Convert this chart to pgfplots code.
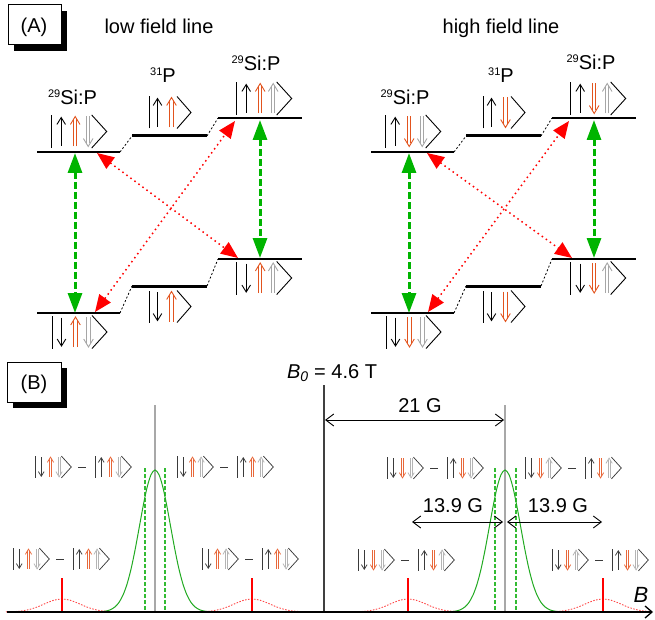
\documentclass[border=0pt]{standalone}
\usepackage{pgfplots}
\pgfplotsset{compat=1.18}
\usetikzlibrary{arrows.meta}
\usepackage{fontspec}
\setmainfont{Liberation Sans}

\definecolor{kred}{HTML}{E2541E}
\definecolor{kgray}{HTML}{A6A6A6}
\definecolor{kdark}{HTML}{3A3A3A}
\definecolor{kred2}{HTML}{E8683A}
\definecolor{kgray2}{HTML}{B4B4B4}
\definecolor{gline}{HTML}{00B400}
\definecolor{gcurve}{HTML}{22AA22}
\definecolor{gdash}{HTML}{33BB33}
\definecolor{rdot}{HTML}{FF4A4A}
\definecolor{vgray}{HTML}{A8A8A8}

% single arrow: x offset, direction, colour
\newcommand{\sarr}[3]{%
 \begin{scope}[xshift=#1pt, yscale=#2]
 \draw[#3] (0pt,-14.5pt) -- (0pt,13.5pt);
 \draw[#3] (-4.3pt,7pt) -- (0pt,14pt) -- (4.3pt,7pt);
 \end{scope}}
% double arrow
\newcommand{\darr}[3]{%
 \begin{scope}[xshift=#1pt, yscale=#2]
 \draw[#3] (-1.7pt,-15pt) -- (-1.7pt,12pt) (1.7pt,-15pt) -- (1.7pt,12pt);
 \draw[#3] (-4.8pt,7pt) -- (0pt,15pt) -- (4.8pt,7pt);
 \end{scope}}
\newcommand{\kthree}[6]{%
 \draw[#4] (0pt,-16.5pt) -- (0pt,16.5pt);
 \sarr{9.5}{#1}{#4}
 \darr{23.5}{#2}{#5}
 \darr{36.5}{#3}{#6}
 \draw[#4] (40pt,16.5pt) -- (55pt,0pt) -- (40pt,-16.5pt);}
\newcommand{\ktwo}[4]{%
 \draw[#3] (0pt,-16pt) -- (0pt,16pt);
 \sarr{8.5}{#1}{#3}
 \darr{22.5}{#2}{#4}
 \draw[#3] (28pt,16pt) -- (42pt,0pt) -- (28pt,-16pt);}
\newcommand{\kA}[5]{%
 \begin{scope}[shift={(axis cs:#1,#2)}, line width=0.9pt]
 \kthree{#3}{#4}{#5}{black}{kred}{kgray}
 \end{scope}}
\newcommand{\kB}[4]{%
 \begin{scope}[shift={(axis cs:#1,#2)}, line width=0.9pt]
 \ktwo{#3}{#4}{black}{kred}
 \end{scope}}
\newcommand{\kP}[8]{%
 \begin{scope}[shift={(axis cs:#1,#2)}, line width=0.75pt]
  \begin{scope}[scale=0.66] \kthree{#3}{#4}{#5}{kdark}{kred2}{kgray2} \end{scope}
  \draw[kdark, line width=0.9pt] (43pt,0pt) -- (51pt,0pt);
  \begin{scope}[xshift=60pt, scale=0.66] \kthree{#6}{#7}{#8}{kdark}{kred2}{kgray2} \end{scope}
 \end{scope}}
\newcommand{\isup}[1]{{\fontsize{11}{11}\selectfont\raisebox{7.5pt}{#1}}}

\tikzset{
 lev/.style={black, line width=1.2pt},
 levP/.style={black, line width=3pt},
 con/.style={black, line width=0.8pt, dash pattern=on 2pt off 2pt},
 garr/.style={gline, line width=3pt, dash pattern=on 7pt off 3pt,
   {Triangle[length=20pt,width=14pt]}-{Triangle[length=20pt,width=14pt]}},
 rarr/.style={red, line width=1.5pt, dash pattern=on 1.5pt off 3.5pt,
   {Triangle[length=17pt,width=14pt]}-{Triangle[length=17pt,width=14pt]}},
 darr/.style={black, line width=0.9pt,
   {Straight Barb[length=8pt,width=12pt]}-{Straight Barb[length=8pt,width=12pt]}},
}

\begin{document}
\begin{tikzpicture}[font=\fontsize{20}{24}\selectfont]
\begin{axis}[x=1pt, y=1pt, xmin=0, xmax=655, ymin=0, ymax=620, y dir=reverse,
  hide axis, clip=false]
\path (axis cs:0,0) rectangle (axis cs:655,620);

% ---------- Panel labels ----------
\fill[black] (axis cs:14,11) rectangle (axis cs:67,51);
\draw[black, fill=white, line width=0.9pt] (axis cs:8,4) rectangle (axis cs:61,44);
\node[anchor=base] at (axis cs:34,33) {(A)};
\fill[black] (axis cs:13,368) rectangle (axis cs:67,408);
\draw[black, fill=white, line width=0.9pt] (axis cs:7,362) rectangle (axis cs:61,402);
\node[anchor=base] at (axis cs:34,389) {(B)};

\node[anchor=base] at (axis cs:159,34) {low field line};
\node[anchor=base] at (axis cs:501,34) {high field line};

% ---------- Panel A, left ----------
\draw[lev] (axis cs:37,152) -- (axis cs:120,152);
\draw[levP] (axis cs:132,136) -- (axis cs:207,136);
\draw[lev] (axis cs:218,118) -- (axis cs:302,118);
\draw[lev] (axis cs:37,313) -- (axis cs:120,313);
\draw[levP] (axis cs:132,286) -- (axis cs:207,286);
\draw[lev] (axis cs:218,259) -- (axis cs:302,259);
\draw[con] (axis cs:120,152) -- (axis cs:132,136);
\draw[con] (axis cs:207,136) -- (axis cs:218,118);
\draw[con] (axis cs:120,313) -- (axis cs:132,286);
\draw[con] (axis cs:207,286) -- (axis cs:218,259);
\node[anchor=base] at (axis cs:72.5,105) {\isup{29}Si:P};
\node[anchor=base] at (axis cs:256,71) {\isup{29}Si:P};
\node[anchor=base] at (axis cs:163,83) {\isup{31}P};
\kA{51.7}{131.5}{1}{1}{-1}
\kB{149}{112.5}{1}{1}
\kA{236.7}{98.5}{1}{1}{1}
\kA{52}{332}{-1}{1}{-1}
\kB{149}{306.5}{-1}{1}
\kA{236.7}{278}{-1}{1}{1}
\draw[garr] (axis cs:75,153) -- (axis cs:75,313);
\draw[garr] (axis cs:260,120) -- (axis cs:260,258);
\draw[rarr] (axis cs:97,153) -- (axis cs:238,258);
\draw[rarr] (axis cs:95,312) -- (axis cs:235,121);

% ---------- Panel A, right ----------
\draw[lev] (axis cs:371,152) -- (axis cs:454,152);
\draw[levP] (axis cs:466,136) -- (axis cs:541,136);
\draw[lev] (axis cs:552,118) -- (axis cs:636,118);
\draw[lev] (axis cs:371,313) -- (axis cs:454,313);
\draw[levP] (axis cs:466,286) -- (axis cs:541,286);
\draw[lev] (axis cs:552,259) -- (axis cs:636,259);
\draw[con] (axis cs:454,152) -- (axis cs:466,136);
\draw[con] (axis cs:541,136) -- (axis cs:552,118);
\draw[con] (axis cs:454,313) -- (axis cs:466,286);
\draw[con] (axis cs:541,286) -- (axis cs:552,259);
\node[anchor=base] at (axis cs:405,105) {\isup{29}Si:P};
\node[anchor=base] at (axis cs:591,70) {\isup{29}Si:P};
\node[anchor=base] at (axis cs:501,83) {\isup{31}P};
\kA{385.7}{131.5}{1}{-1}{-1}
\kB{483}{112.5}{1}{-1}
\kA{570.7}{98.5}{1}{-1}{1}
\kA{386}{332}{-1}{-1}{-1}
\kB{483}{306.5}{-1}{-1}
\kA{570.7}{278}{-1}{-1}{1}
\draw[garr] (axis cs:409,153) -- (axis cs:409,313);
\draw[garr] (axis cs:594,120) -- (axis cs:594,258);
\draw[rarr] (axis cs:427,153) -- (axis cs:572,258);
\draw[rarr] (axis cs:428,312) -- (axis cs:569,121);

% ---------- Panel B ----------
\addplot[vgray, line width=2pt] coordinates {(155,405) (155,612)};
\addplot[vgray, line width=2pt] coordinates {(505,405) (505,612)};
\addplot[black!75, line width=1.1pt] coordinates {(324,385) (324,612)};
\addplot[gdash, line width=1.2pt, dash pattern=on 4pt off 2pt] coordinates {(145,468) (145,612)};
\addplot[gdash, line width=1.2pt, dash pattern=on 4pt off 2pt] coordinates {(165,468) (165,612)};
\addplot[gdash, line width=1.2pt, dash pattern=on 4pt off 2pt] coordinates {(495,468) (495,612)};
\addplot[gdash, line width=1.2pt, dash pattern=on 4pt off 2pt] coordinates {(516,468) (516,612)};

\addplot[gcurve, line width=1pt, smooth] coordinates {
(100,611.8) (105,611.2) (110,609.9) (115,606.9) (119,602.4) (123,595.1) (127,584.2)
(131,569.2) (135,550.2) (139,528.6) (143,506.8) (147,487.7) (151,474.7) (155,470)
(159,474.7) (163,487.7) (167,506.8) (171,528.6) (175,550.2) (179,569.2) (183,584.2)
(187,595.1) (191,602.4) (195,606.9) (200,609.9) (205,611.2) (210,611.8)};
\addplot[gcurve, line width=1pt, smooth] coordinates {
(450,611.8) (455,611.2) (460,609.9) (465,606.9) (469,602.4) (473,595.1) (477,584.2)
(481,569.2) (485,550.2) (489,528.6) (493,506.8) (497,487.7) (501,474.7) (505,470)
(509,474.7) (513,487.7) (517,506.8) (521,528.6) (525,550.2) (529,569.2) (533,584.2)
(537,595.1) (541,602.4) (545,606.9) (550,609.9) (555,611.2) (560,611.8)};

\addplot[rdot, line width=0.9pt, dash pattern=on 1.5pt off 1.5pt, smooth] coordinates {
(6,611.9) (14,611.6) (22,610.9) (30,609.3) (38,606.7) (46,603.2) (54,600.2) (62,599)
(70,600.2) (78,603.2) (86,606.7) (94,609.3) (102,610.9) (110,611.6) (118,611.9)};
\addplot[rdot, line width=0.9pt, dash pattern=on 1.5pt off 1.5pt, smooth] coordinates {
(196,611.9) (204,611.6) (212,610.9) (220,609.3) (228,606.7) (236,603.2) (244,600.2) (252,599)
(260,600.2) (268,603.2) (276,606.7) (284,609.3) (292,610.9) (300,611.6) (308,611.9)};
\addplot[rdot, line width=0.9pt, dash pattern=on 1.5pt off 1.5pt, smooth] coordinates {
(352,611.9) (360,611.6) (368,610.9) (376,609.3) (384,606.7) (392,603.2) (400,600.2) (408,599)
(416,600.2) (424,603.2) (432,606.7) (440,609.3) (448,610.9) (456,611.6) (464,611.9)};
\addplot[rdot, line width=0.9pt, dash pattern=on 1.5pt off 1.5pt, smooth] coordinates {
(547,611.9) (555,611.6) (563,610.9) (571,609.3) (579,606.7) (587,603.2) (595,600.2) (603,599)
(611,600.2) (619,603.2) (627,606.7) (635,609.3) (643,610.9) (651,611.6)};

\addplot[red, line width=2.5pt] coordinates {(62,578) (62,612)};
\addplot[red, line width=2.5pt] coordinates {(252,578) (252,612)};
\addplot[red, line width=2.5pt] coordinates {(408,578) (408,612)};
\addplot[red, line width=2.5pt] coordinates {(603,578) (603,612)};

\draw[black, line width=1.3pt, -{Straight Barb[length=7pt,width=12pt]}] (axis cs:7,612) -- (axis cs:653,612);
\node[anchor=base] at (axis cs:641,602) {\fontsize{22}{24}\selectfont\textit{B}};

\node[anchor=base] at (axis cs:332,378) {\textit{B}\textsubscript{\textit{0}} = 4.6 T};
\draw[darr] (axis cs:325,420) -- (axis cs:504,420);
\node[anchor=base] at (axis cs:420,412) {21 G};
\draw[darr] (axis cs:412,522) -- (axis cs:503,522);
\draw[darr] (axis cs:507,522) -- (axis cs:602,522);
\node[anchor=base] at (axis cs:453,512) {13.9 G};
\node[anchor=base] at (axis cs:558,512) {13.9 G};

\kP{35}{467}{-1}{1}{-1}{1}{1}{-1}
\kP{177}{467}{-1}{1}{1}{1}{1}{1}
\kP{13}{559}{-1}{1}{-1}{1}{1}{1}
\kP{202}{559}{-1}{1}{1}{1}{1}{-1}
\kP{387}{468}{-1}{-1}{-1}{1}{-1}{-1}
\kP{525}{468}{-1}{-1}{1}{1}{-1}{1}
\kP{358}{560}{-1}{-1}{-1}{1}{-1}{1}
\kP{552}{560}{-1}{-1}{1}{1}{-1}{-1}
\end{axis}
\end{tikzpicture}
\end{document}
